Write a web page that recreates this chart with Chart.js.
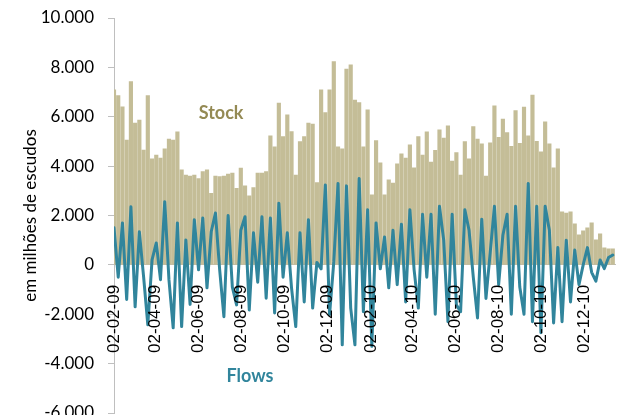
<!DOCTYPE html>
<html>
<head>
<meta charset="utf-8">
<script src="https://cdn.jsdelivr.net/npm/chart.js@4.4.1/dist/chart.umd.min.js"></script>
<style>
  html, body { margin: 0; padding: 0; background: #fff; overflow: hidden; }
</style>
</head>
<body>
<canvas id="chart" width="625" height="430"></canvas>
<script>
// ===== Data (one point every 6 days from 02-02-09) =====
const stepDays = 6;

const stockValues = [
  7090, 6860, 6400, 5060, 7420, 5740, 5870, 4650, 6860, 4300,
  4450, 4330, 4700, 5100, 5060, 5390, 3850, 3640, 3600, 3640,
  3500, 3780, 3850, 2900, 3600, 3580, 3600, 3680, 3720, 3100,
  3920, 3200, 2800, 3130, 3720, 3720, 3780, 5230, 4780, 6550,
  5200, 6080, 5400, 3640, 4990, 5200, 5740, 5700, 3330, 7090,
  6170, 7090, 8230, 4780, 4700, 7930, 8100, 6680, 6570, 4780,
  6280, 2840, 5030, 4130, 2840, 3440, 3310, 4090, 4500, 4330,
  4860, 3930, 5200, 4450, 5390, 4160, 4640, 5470, 5140, 5630,
  4200, 4550, 3640, 4990, 4300, 5600, 5100, 4900, 3600, 4940,
  6440, 5170, 5910, 5360, 4800, 6250, 4920, 6390, 5230, 6880,
  5000, 4580, 5790, 4900, 3930, 4700, 2150, 2100, 2150, 1660,
  1220, 1380, 1500, 1700, 1010, 1260, 690, 650, 650
];

const flowValues = [
  1500, -500, 1700, -1400, 2350, -1700, 1340, -480, -2430, 200,
  890, -600, 2560, -600, -2550, 1700, -2500, 1010, -1600, 1830,
  -200, 1900, -930, 1340, 2100, -200, -2100, 2000, -900, -1620,
  1400, 1950, -1830, 1300, -700, 1950, -1350, 1900, -1950, 2500,
  -500, 1300, -930, -2500, 1300, -1500, 1830, -1750, 100, -160,
  3240, -2020, 120, 3300, -3240, 3200, -1750, -3240, 3500, -1900,
  2230, -3300, 1700, -160, 1130, -930, 1400, -800, 1650, -1500,
  2230, -200, -1750, 2050, -500, 2050, -2000, 2370, 1000, -2300,
  2050, -1620, -1900, 2230, 1400, -500, -2150, 1850, -1360, 500,
  2370, -800, 1200, 2050, -2000, 2370, -900, -2000, 3300, -2300,
  2370, -2750, 2370, 1400, -2350, 700, -2300, 1000, -1500, 600,
  -800, 0, 700, -300, -660, 200, -150, 300, 400
];

const tickLabels = [
  "02-02-09", "02-04-09", "02-06-09", "02-08-09", "02-10-09", "02-12-09",
  "02-02-10", "02-04-10", "02-06-10", "02-08-10", "02-10-10", "02-12-10"
];

// days since 02-02-09 for a dd-mm-yy label
function dayOf(label) {
  const [d, m, y] = label.split("-").map(Number);
  return (Date.UTC(2000 + y, m - 1, d) - Date.UTC(2009, 1, 2)) / 86400000;
}
const tickDays = tickLabels.map(dayOf);

function fmt(v) {
  const s = String(Math.abs(v)).replace(/\B(?=(\d{3})+(?!\d))/g, ".");
  return (v < 0 ? "-" : "") + s;
}

// ===== Text notes inside the plot =====
const notesPlugin = {
  id: "notes",
  afterDatasetsDraw(chart) {
    const { ctx, scales: { x, y } } = chart;
    ctx.save();
    ctx.font = "bold 18px Lato";
    ctx.textAlign = "center";
    ctx.textBaseline = "middle";
    ctx.fillStyle = "#948A54";
    ctx.fillText("Stock", x.getPixelForValue(152), y.getPixelForValue(6150));
    ctx.fillStyle = "#31859C";
    ctx.fillText("Flows", x.getPixelForValue(193), y.getPixelForValue(-4520));
    ctx.restore();
  }
};

// ===== Chart =====
const ctx = document.getElementById("chart").getContext("2d");
new Chart(ctx, {
  type: "bar",
  data: {
    datasets: [
      {
        type: "line",
        label: "Flows",
        data: flowValues.map((v, i) => ({ x: i * stepDays, y: v })),
        borderColor: "#31859C",
        borderWidth: 3,
        borderJoinStyle: "round",
        borderCapStyle: "round",
        pointRadius: 0,
        tension: 0,
        order: 0
      },
      {
        type: "bar",
        label: "Stock",
        data: stockValues.map((v, i) => ({ x: i * stepDays, y: v })),
        backgroundColor: "#C4BD97",
        borderWidth: 0,
        barThickness: 3.5,
        order: 1
      }
    ]
  },
  options: {
    responsive: false,
    animation: false,
    layout: { padding: { top: 18, right: 0, bottom: 17, left: 0 } },
    plugins: { legend: { display: false }, tooltip: { enabled: false } },
    scales: {
      x: {
        type: "linear",
        min: 0,
        max: 712,
        offset: false,
        position: { y: 0 },
        afterFit(scale) { scale.height = 0; },
        afterBuildTicks(scale) { scale.ticks = tickDays.map(v => ({ value: v })); },
        grid: { display: true, drawOnChartArea: false, drawTicks: false, offset: false },
        border: { display: true, color: "#BFBFBF", width: 1 },
        ticks: {
          z: 1,
          autoSkip: false,
          minRotation: 90,
          maxRotation: 90,
          padding: 20,
          color: "#000",
          font: { family: "Liberation Sans", size: 17 },
          callback: (v) => tickLabels[tickDays.indexOf(v)] || ""
        }
      },
      y: {
        min: -6000,
        max: 10000,
        afterFit(scale) {
          scale.width = 114;
          scale.paddingTop = 8;
          scale.paddingBottom = 8;
        },
        grid: { display: true, drawOnChartArea: false, drawTicks: true, tickLength: 6, color: "#BFBFBF" },
        border: { display: true, color: "#BFBFBF", width: 1 },
        ticks: {
          stepSize: 2000,
          padding: 14,
          color: "#000",
          font: { family: "Lato", size: 17 },
          callback: (v) => fmt(v)
        },
        title: {
          display: true,
          text: "em milhões de escudos",
          color: "#000",
          font: { family: "Lato", size: 17 },
          padding: { top: 20, bottom: 0 }
        }
      }
    }
  },
  plugins: [notesPlugin]
});
</script>
</body>
</html>
